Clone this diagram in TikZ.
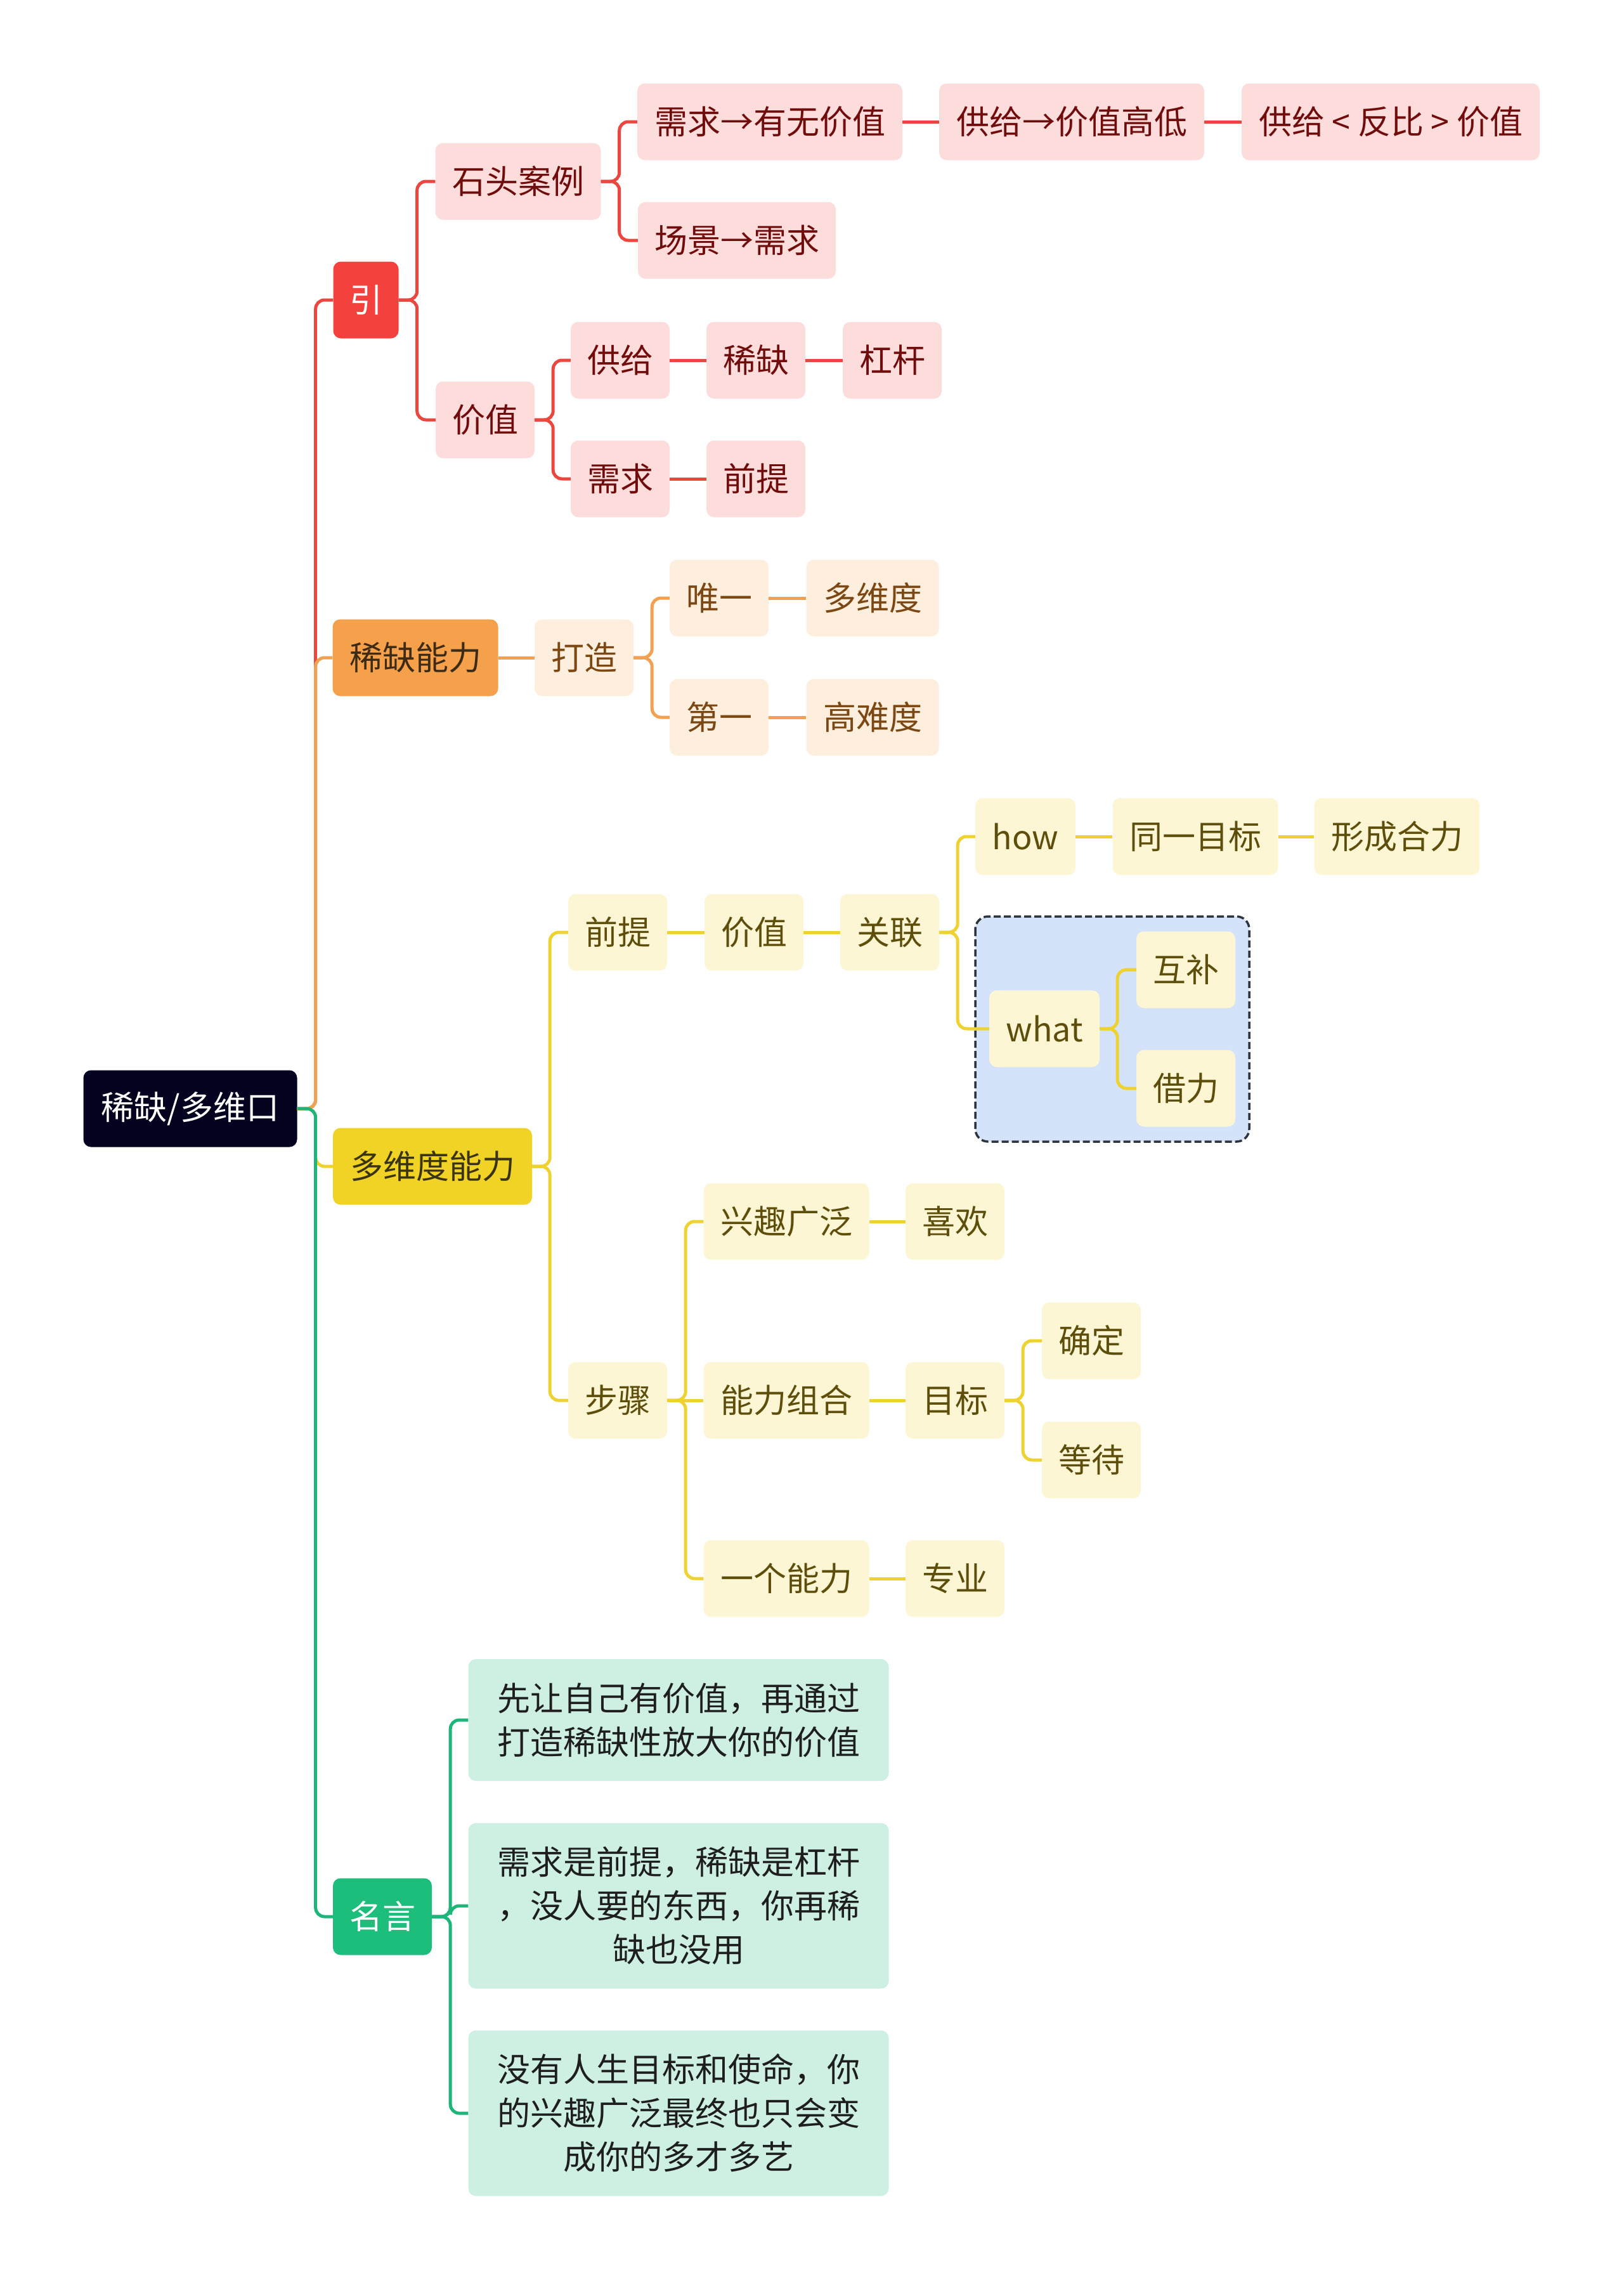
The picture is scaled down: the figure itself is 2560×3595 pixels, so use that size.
\documentclass[tikz,border=0pt]{standalone}
\usepackage{fontspec}
\setmainfont{Noto Sans CJK SC}
\definecolor{rootfill}{HTML}{03031F}
\definecolor{redmain}{HTML}{F5413D}
\definecolor{redfill}{HTML}{FDDCDC}
\definecolor{redtext}{HTML}{700C0C}
\definecolor{redline}{HTML}{E9473F}
\definecolor{orgmain}{HTML}{F5A04B}
\definecolor{orgfill}{HTML}{FDEEDD}
\definecolor{orgtext}{HTML}{7B4712}
\definecolor{orgmaintext}{HTML}{3D2B16}
\definecolor{orgline}{HTML}{F0A252}
\definecolor{yelmain}{HTML}{F1D325}
\definecolor{yelfill}{HTML}{FDF6D4}
\definecolor{yeltext}{HTML}{5E4E0C}
\definecolor{yelmaintext}{HTML}{3B3412}
\definecolor{yelline}{HTML}{EDD232}
\definecolor{grnmain}{HTML}{1DBD7B}
\definecolor{grnfill}{HTML}{CDF0E2}
\definecolor{grntext}{HTML}{1E1E1E}
\definecolor{grnline}{HTML}{1DB57A}
\definecolor{dashfill}{HTML}{D5E3FA}
\definecolor{dashdraw}{HTML}{2E3440}
\begin{document}
\begin{tikzpicture}[x=1pt,y=-1pt,
  box/.style={rounded corners=12pt, inner sep=0pt, minimum height=121pt,
    font=\fontsize{52}{69}\selectfont, align=center},
  rootbox/.style={box, fill=rootfill, text=white},
  redm/.style={box, fill=redmain, text=white},
  reds/.style={box, fill=redfill, text=redtext},
  orgm/.style={box, fill=orgmain, text=orgmaintext},
  orgs/.style={box, fill=orgfill, text=orgtext},
  yelm/.style={box, fill=yelmain, text=yelmaintext},
  yels/.style={box, fill=yelfill, text=yeltext},
  grnm/.style={box, fill=grnmain, text=white},
  grns/.style={box, fill=grnfill, text=grntext},
  conn/.style={line width=5pt, rounded corners=14pt},
  rc/.style={conn, draw=redline},
  oc/.style={conn, draw=orgline},
  yc/.style={conn, draw=yelline},
  gc/.style={conn, draw=grnline},
  groupbox/.style={fill=dashfill, draw=dashdraw, line width=3.5pt, dash pattern=on 11pt off 5pt, rounded corners=20pt}
]
\useasboundingbox (0,0) rectangle (2560,3595);
\fill[white] (0,0) rectangle (2560,3595);

% dashed group
\draw[groupbox] (1538,1445) rectangle (1970,1800);

% root and main branches
\node[rootbox, minimum width=337pt] (root) at (300,1748) {稀缺/多维口};
\node[redm, minimum width=103pt] (yin) at (577,473) {引};
\node[orgm, minimum width=261pt] (xqnl) at (655,1037) {稀缺能力};
\node[yelm, minimum width=314pt] (dwdnl) at (682,1839) {多维度能力};
\node[grnm, minimum width=156pt] (my) at (603,3022) {名言};

% red branch
\node[reds, minimum width=261pt] (stal) at (817,286) {石头案例};
\node[reds, minimum width=156pt] (jz) at (765,662) {价值};
\node[reds, minimum width=418pt] (xqyw) at (1214,192) {需求→有无价值};
\node[reds, minimum width=418pt] (gjjz) at (1690,192) {供给→价值高低};
\node[reds, minimum width=470pt] (gjfb) at (2193,192) {供给\makebox[1em]{<}反比\makebox[1em]{>}价值};
\node[reds, minimum width=312pt] (cjxq) at (1162,379) {场景→需求};
\node[reds, minimum width=156pt] (gj) at (978,568) {供给};
\node[reds, minimum width=156pt] (xque) at (1192,568) {稀缺};
\node[reds, minimum width=156pt] (gg) at (1407,568) {杠杆};
\node[reds, minimum width=156pt] (xq) at (978,755) {需求};
\node[reds, minimum width=156pt] (qt) at (1192,755) {前提};

% orange branch
\node[orgs, minimum width=156pt] (dz) at (921,1037) {打造};
\node[orgs, minimum width=156pt] (wy) at (1134,943) {唯一};
\node[orgs, minimum width=209pt] (dwd) at (1376,943) {多维度};
\node[orgs, minimum width=156pt] (dy) at (1134,1131) {第一};
\node[orgs, minimum width=209pt] (gnd) at (1376,1131) {高难度};

% yellow branch
\node[yels, minimum width=156pt] (qt2) at (974,1470) {前提};
\node[yels, minimum width=156pt] (jz2) at (1189,1470) {价值};
\node[yels, minimum width=156pt] (gl) at (1403,1470) {关联};
\node[yels, minimum width=158pt] (how) at (1617,1319) {how};
\node[yels, minimum width=261pt] (tymb) at (1885,1319) {同一目标};
\node[yels, minimum width=261pt] (xchl) at (2203,1319) {形成合力};
\node[yels, minimum width=174pt] (what) at (1647,1622) {what};
\node[yels, minimum width=156pt] (hb) at (1870,1529) {互补};
\node[yels, minimum width=156pt] (jl) at (1870,1716) {借力};
\node[yels, minimum width=156pt] (bz) at (974,2208) {步骤};
\node[yels, minimum width=261pt] (xqgf) at (1240,1926) {兴趣广泛};
\node[yels, minimum width=156pt] (xh) at (1506,1926) {喜欢};
\node[yels, minimum width=261pt] (nlzh) at (1240,2208) {能力组合};
\node[yels, minimum width=156pt] (mb) at (1506,2208) {目标};
\node[yels, minimum width=156pt] (qd) at (1721,2114) {确定};
\node[yels, minimum width=156pt] (dd) at (1721,2302) {等待};
\node[yels, minimum width=261pt] (ygnl) at (1240,2489) {一个能力};
\node[yels, minimum width=156pt] (zy) at (1506,2489) {专业};

% green branch
\node[grns, minimum width=663pt, minimum height=192pt] (q1) at (1070,2712) {先让自己有价值，再通过\\打造稀缺性放大你的价值};
\node[grns, minimum width=663pt, minimum height=261pt] (q2) at (1070,3005) {需求是前提，稀缺是杠杆\\，没人要的东西，你再稀\\缺也没用};
\node[grns, minimum width=663pt, minimum height=261pt] (q3) at (1070,3332) {没有人生目标和使命，你\\的兴趣广泛最终也只会变\\成你的多才多艺};

% root connectors
\draw[rc] (root.east) -- ++(29,0) |- (yin.west);
\draw[oc] (root.east) -- ++(29,0) |- (xqnl.west);
\draw[yc] (root.east) -- ++(29,0) |- (dwdnl.west);
\draw[gc] (root.east) -- ++(29,0) |- (my.west);

% red connectors
\draw[rc] (yin.east) -- ++(29,0) |- (stal.west);
\draw[rc] (yin.east) -- ++(29,0) |- (jz.west);
\draw[rc] (stal.east) -- ++(29,0) |- (xqyw.west);
\draw[rc] (stal.east) -- ++(29,0) |- (cjxq.west);
\draw[rc] (xqyw.east) -- (gjjz.west);
\draw[rc] (gjjz.east) -- (gjfb.west);
\draw[rc] (jz.east) -- ++(29,0) |- (gj.west);
\draw[rc] (jz.east) -- ++(29,0) |- (xq.west);
\draw[rc] (gj.east) -- (xque.west);
\draw[rc] (xque.east) -- (gg.west);
\draw[rc] (xq.east) -- (qt.west);

% orange connectors
\draw[oc] (xqnl.east) -- (dz.west);
\draw[oc] (dz.east) -- ++(29,0) |- (wy.west);
\draw[oc] (dz.east) -- ++(29,0) |- (dy.west);
\draw[oc] (wy.east) -- (dwd.west);
\draw[oc] (dy.east) -- (gnd.west);

% yellow connectors
\draw[yc] (dwdnl.east) -- ++(28,0) |- (qt2.west);
\draw[yc] (dwdnl.east) -- ++(28,0) |- (bz.west);
\draw[yc] (qt2.east) -- (jz2.west);
\draw[yc] (jz2.east) -- (gl.west);
\draw[yc] (gl.east) -- ++(29,0) |- (how.west);
\draw[yc] (gl.east) -- ++(29,0) |- (what.west);
\draw[yc] (how.east) -- (tymb.west);
\draw[yc] (tymb.east) -- (xchl.west);
\draw[yc] (what.east) -- ++(28,0) |- (hb.west);
\draw[yc] (what.east) -- ++(28,0) |- (jl.west);
\draw[yc] (bz.east) -- ++(29,0) |- (xqgf.west);
\draw[yc] (bz.east) -- (nlzh.west);
\draw[yc] (bz.east) -- ++(29,0) |- (ygnl.west);
\draw[yc] (xqgf.east) -- (xh.west);
\draw[yc] (nlzh.east) -- (mb.west);
\draw[yc] (ygnl.east) -- (zy.west);
\draw[yc] (mb.east) -- ++(29,0) |- (qd.west);
\draw[yc] (mb.east) -- ++(29,0) |- (dd.west);

% green connectors
\draw[gc] (my.east) -- ++(29,0) |- (q1.west);
\draw[gc] (my.east) -- ++(29,0) |- (q2.west);
\draw[gc] (my.east) -- ++(29,0) |- (q3.west);
\end{tikzpicture}
\end{document}
